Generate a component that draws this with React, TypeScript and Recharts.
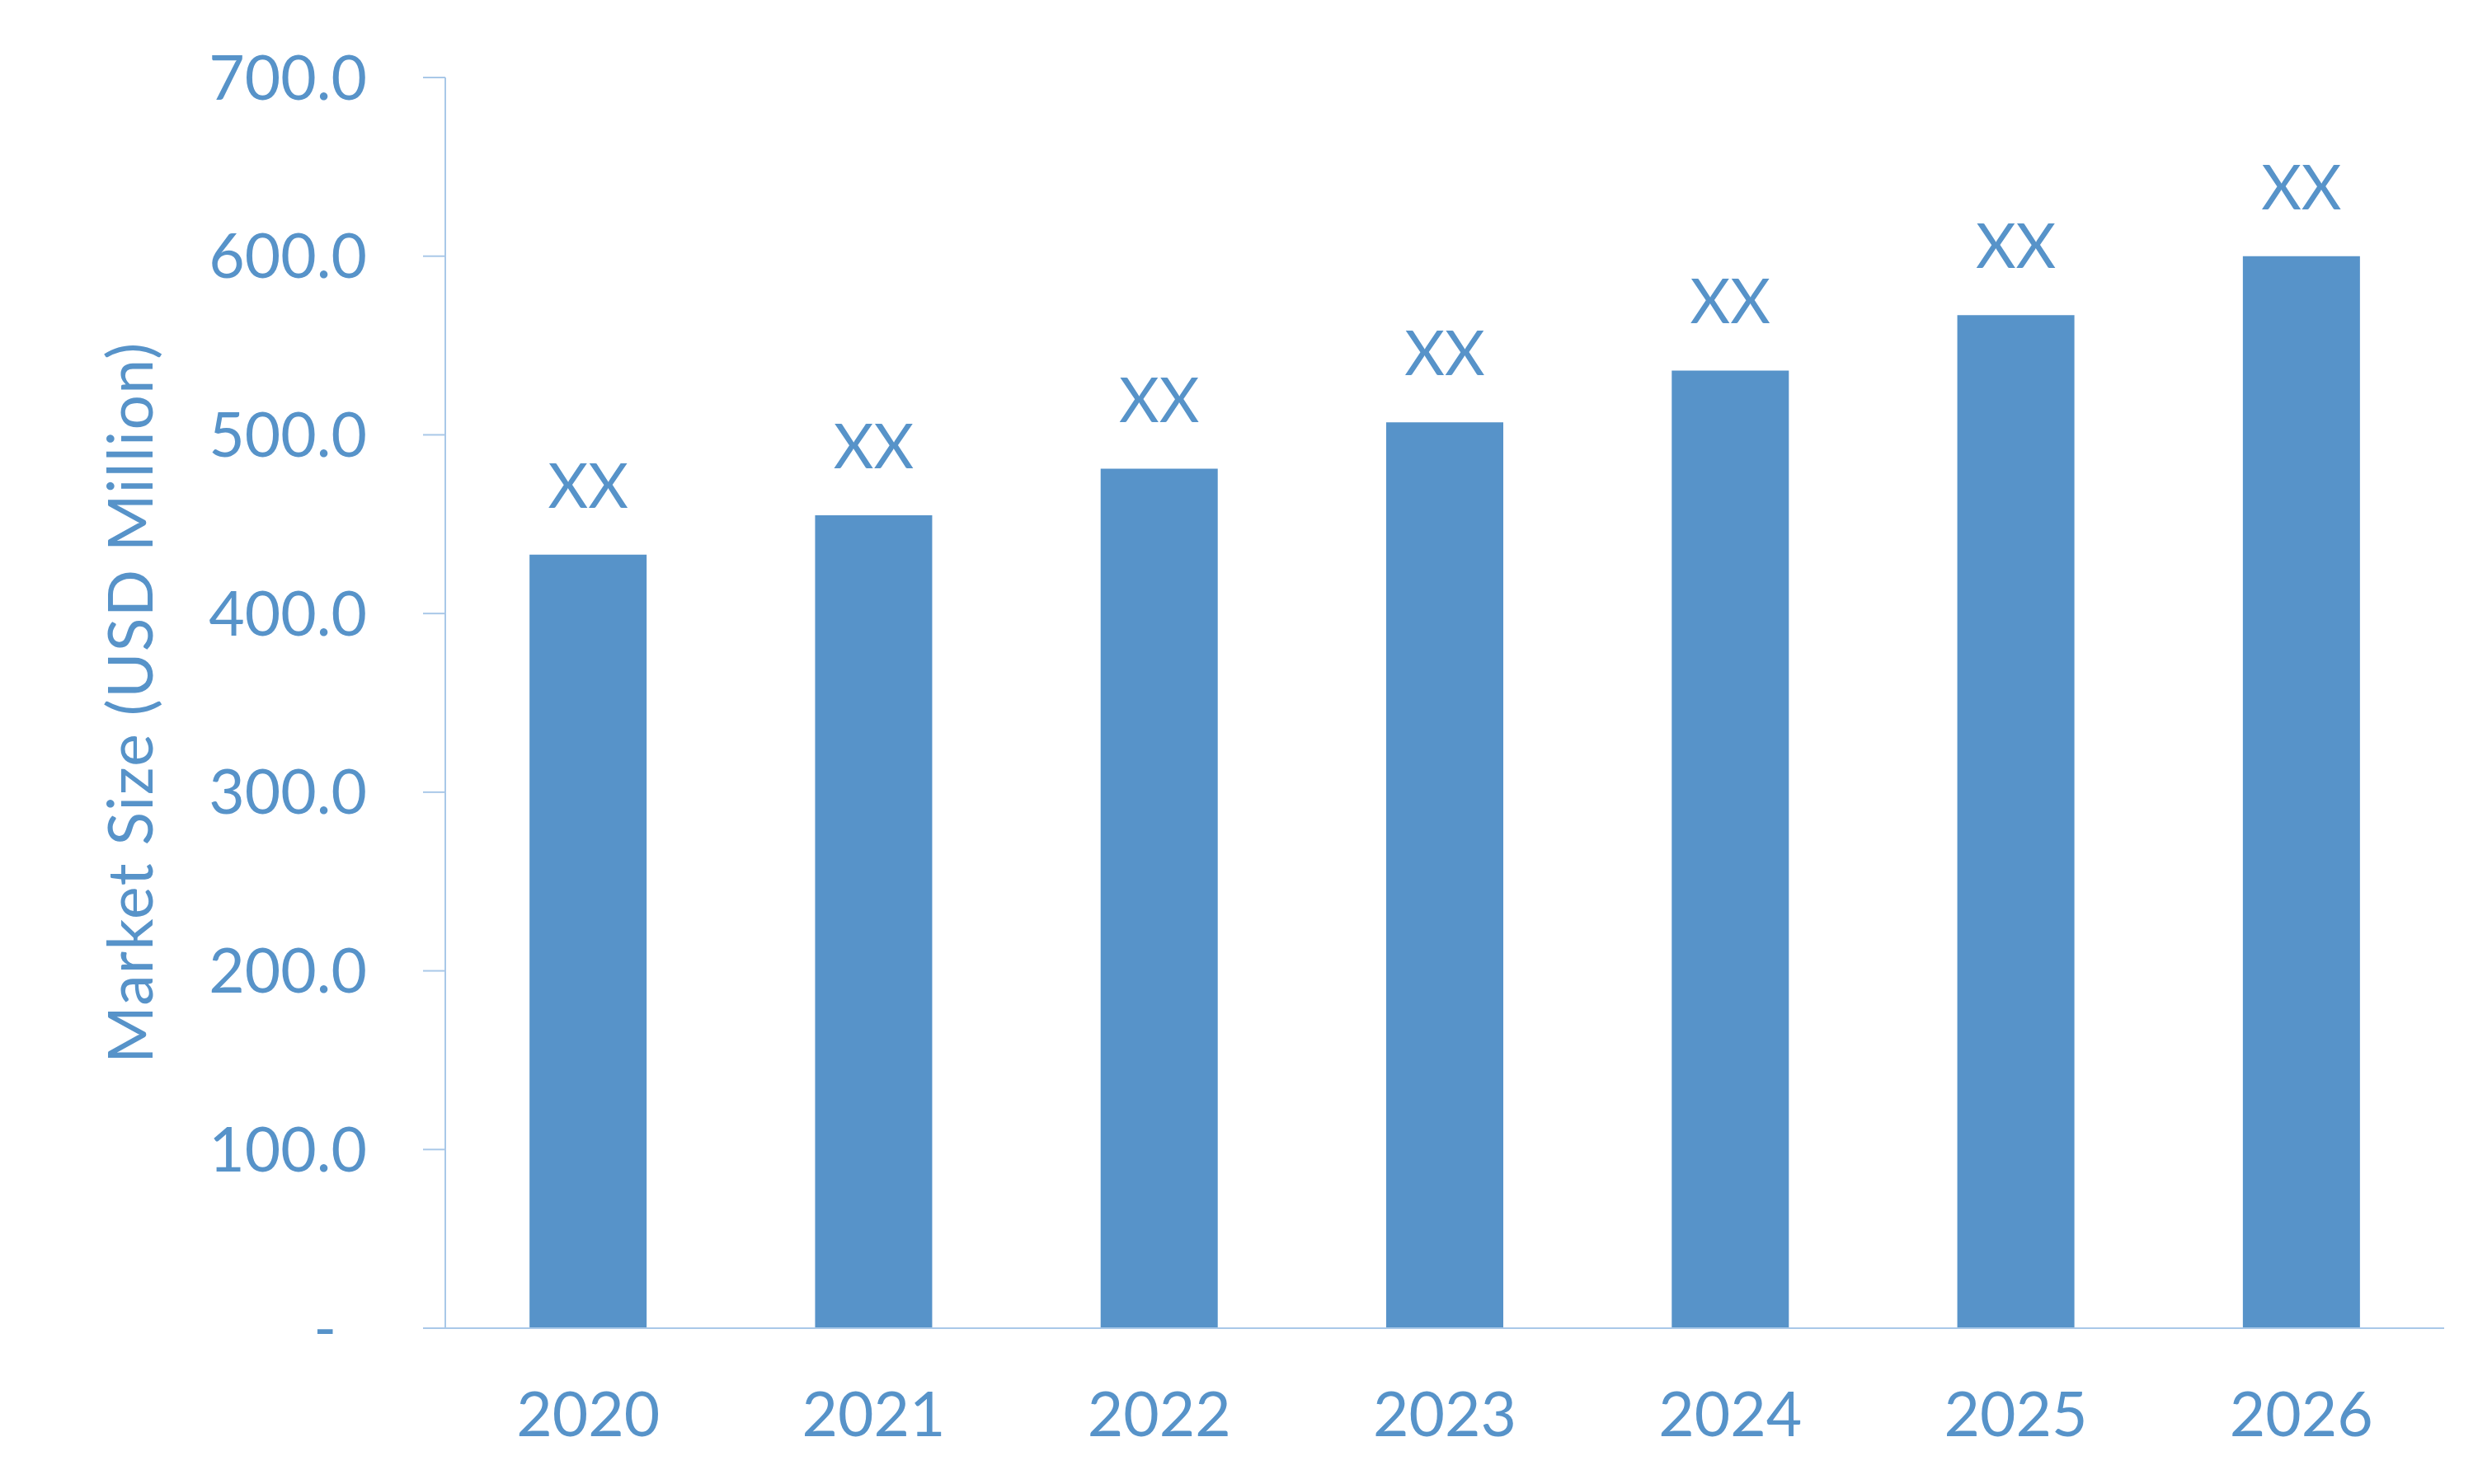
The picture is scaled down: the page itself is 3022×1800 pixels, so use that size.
import React from "react";
import { BarChart, Bar, XAxis, YAxis, LabelList, Label } from "recharts";

// ── Data ────────────────────────────────────────────────────────────────────
const years = ["2020", "2021", "2022", "2023", "2024", "2025", "2026"];
const marketSize = [433, 455, 481, 507, 536, 567, 600];
const barLabels = ["XX", "XX", "XX", "XX", "XX", "XX", "XX"];
const yTicks = [0, 100, 200, 300, 400, 500, 600, 700];

const data = years.map((year, i) => ({
  year,
  value: marketSize[i],
  label: barLabels[i],
}));

// ── Style ───────────────────────────────────────────────────────────────────
const BLUE = "#5793C9";
const AXIS = "#A9C8E8";
const FONT = "Lato, 'Open Sans', sans-serif";
const FONT_SIZE = 75;

// y tick: "-" stands for zero, Excel accounting style
const YTick = (props: any) => {
  const { x, y, payload } = props;
  const zero = payload.value === 0;
  return (
    <text
      x={zero ? x - 37 : x}
      y={y}
      dy="0.355em"
      textAnchor="end"
      fill={BLUE}
      fontSize={FONT_SIZE}
      fontFamily={FONT}
    >
      {zero ? "-" : payload.value.toFixed(1)}
    </text>
  );
};

const YTitle = () => (
  <text
    x={177}
    y={844}
    transform="rotate(-90, 177, 844)"
    textAnchor="middle"
    fill={BLUE}
    fontSize={FONT_SIZE}
    fontFamily={FONT}
    letterSpacing={1.4}
  >
    Market Size (USD Million)
  </text>
);

export default function App() {
  return (
    <div style={{ width: 3006, height: 1784, background: "#fff" }}>
      <BarChart
        width={3006}
        height={1784}
        data={data}
        margin={{ top: 86, right: 50, left: 0, bottom: 0 }}
        barCategoryGap="29.5%"
      >
        <XAxis
          dataKey="year"
          height={181}
          tickLine={false}
          tickSize={6}
          tickMargin={72}
          axisLine={{ stroke: AXIS, strokeWidth: 2 }}
          tick={{ fill: BLUE, fontSize: FONT_SIZE, fontFamily: FONT }}
        />
        <YAxis
          width={532}
          domain={[0, 700]}
          ticks={yTicks}
          interval={0}
          tickSize={27}
          tickMargin={68}
          tickLine={{ stroke: AXIS, strokeWidth: 2 }}
          axisLine={{ stroke: AXIS, strokeWidth: 2 }}
          tick={<YTick />}
        >
          <Label content={<YTitle />} />
        </YAxis>
        <Bar dataKey="value" fill={BLUE} isAnimationActive={false}>
          <LabelList
            dataKey="label"
            position="top"
            offset={57}
            fill={BLUE}
            fontSize={FONT_SIZE}
            fontFamily={FONT}
          />
        </Bar>
      </BarChart>
    </div>
  );
}
